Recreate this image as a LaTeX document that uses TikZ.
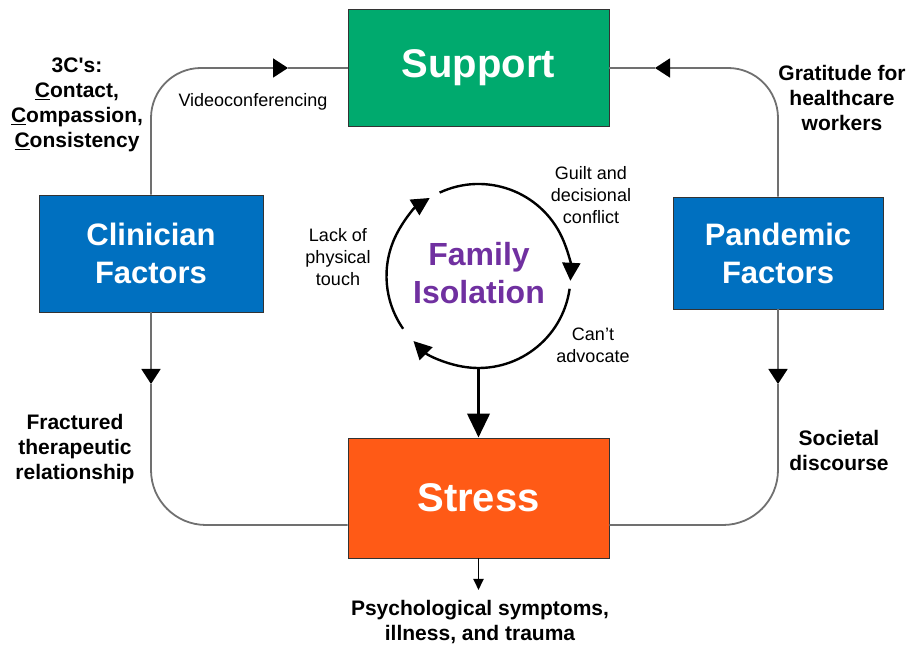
\documentclass[tikz,border=0pt]{standalone}
\usepackage{fontspec}
\setmainfont{Liberation Sans}
\usetikzlibrary{arrows.meta}
\definecolor{supgreen}{RGB}{0,170,110}
\definecolor{facblue}{RGB}{0,112,192}
\definecolor{strorange}{RGB}{255,90,22}
\definecolor{isopurple}{RGB}{112,48,160}
\definecolor{conngray}{RGB}{112,112,112}
\begin{document}
\begin{tikzpicture}[x=1pt,y=1pt,
  box/.style={draw=black!80, line width=0.8pt, text=white, align=center, inner sep=0pt},
  bigtxt/.style={font=\fontsize{40}{46}\selectfont\bfseries},
  factxt/.style={font=\fontsize{31}{38}\selectfont\bfseries},
  conn/.style={draw=conngray, line width=1.8pt},
  tipc/.style={-{Triangle[length=15pt,width=19pt,color=black]}},
  ringline/.style={draw=black, line width=2.4pt, -{Triangle[length=18pt,width=18pt]}},
  lab/.style={font=\fontsize{21}{25}\selectfont\bfseries, align=center},
  small/.style={font=\fontsize{18}{22}\selectfont, align=center}
]
\useasboundingbox (0,0) rectangle (908,647);

% boxes
\node[box, fill=supgreen, bigtxt, minimum width=261pt, minimum height=117pt] (sup) at (478.5,579) {Support};
\node[box, fill=facblue, factxt, minimum width=224pt, minimum height=117pt] (clin) at (151,393.5) {Clinician\\Factors};
\node[box, fill=facblue, factxt, minimum width=210pt, minimum height=112pt] (pand) at (778,394) {Pandemic\\Factors};
\node[box, fill=strorange, bigtxt, minimum width=261pt, minimum height=120pt] (stress) at (478.5,149) {Stress};

% outer connectors
\coordinate (a1) at (288,579);
\coordinate (a2) at (655,579);
\coordinate (a3) at (151,263);
\coordinate (a4) at (778,263);
\draw[conn, rounded corners=50pt, tipc] (clin.north) |- (a1);
\draw[conn] (a1) -- (sup.west);
\draw[conn, rounded corners=50pt, tipc] (pand.north) |- (a2);
\draw[conn] (a2) -- (sup.east);
\draw[conn, tipc] (clin.south) -- (a3);
\draw[conn, rounded corners=55pt] (a3) |- ([yshift=-27pt]stress.west);
\draw[conn, tipc] (pand.south) -- (a4);
\draw[conn, rounded corners=55pt] (a4) |- ([yshift=-27pt]stress.east);

% ring
\coordinate (cc) at (478.5,371);
\node[circle, minimum size=184pt, inner sep=0pt] (ring) at (cc) {};
\draw[ringline] ([shift={(115:92pt)}]cc) arc[start angle=115, end angle=-3, radius=92pt];
\draw[ringline] ([shift={(-8:92pt)}]cc) arc[start angle=-8, end angle=-135, radius=92pt];
\draw[ringline] ([shift={(215:92pt)}]cc) arc[start angle=215, end angle=122, radius=92pt];
\node[font=\fontsize{32}{38}\selectfont\bfseries, text=isopurple, align=center] (iso) at (479,374) {Family\\Isolation};

% central arrows
\draw[line width=3.8pt, -{Triangle[length=24pt,width=22pt]}] (ring.south) -- (stress.north);
\coordinate (out) at (478.5,57);
\draw[line width=1.8pt, -{Triangle[length=11pt,width=10pt]}] (stress.south) -- (out);

% labels
\node[lab] (threec) at (77,542) {3C\textquotesingle s:\\\underline{C}ontact,\\\underline{C}ompassion,\\\underline{C}onsistency};
\node[small, anchor=west] (video) at (175,545) {Videoconferencing};
\node[lab] (grat) at (842,549) {Gratitude for\\healthcare\\workers};
\node[small] (touch) at (338,390) {Lack of\\physical\\touch};
\node[small] (guilt) at (591,452) {Guilt and\\decisional\\conflict};
\node[small] (advoc) at (593,302) {Can’t\\advocate};
\node[lab] (fract) at (75,198) {Fractured\\therapeutic\\relationship};
\node[lab] (soc) at (839,196) {Societal\\discourse};
\node[lab] (psych) at (480,25) {Psychological symptoms,\\illness, and trauma};
\end{tikzpicture}
\end{document}
